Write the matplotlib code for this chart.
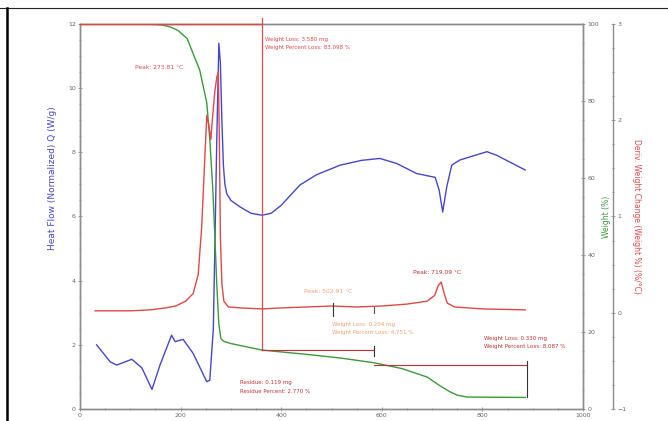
import matplotlib.pyplot as plt
from matplotlib.ticker import MultipleLocator
from matplotlib.lines import Line2D

# Heat flow (blue, left axis)
hf_temp = [33, 60, 73, 103, 123, 143, 159, 182, 189, 205, 225, 252, 258, 265,
           268, 272, 276, 279, 282, 285, 288, 292, 300, 318, 340, 362, 380, 400,
           437, 470, 517, 560, 596, 630, 669, 706, 714, 721, 729, 739, 755, 809,
           828, 885]
hf_val = [2.0, 1.47, 1.37, 1.55, 1.28, 0.61, 1.37, 2.3, 2.1, 2.17, 1.73, 0.85,
          0.9, 2.5, 5.0, 8.5, 11.4, 10.8, 9.0, 7.6, 7.0, 6.7, 6.5, 6.3, 6.1,
          6.04, 6.1, 6.35, 6.98, 7.3, 7.6, 7.75, 7.81, 7.65, 7.34, 7.22, 6.82,
          6.14, 6.92, 7.6, 7.76, 8.02, 7.91, 7.45]

# Weight % (green, first right axis)
w_temp = [30, 100, 150, 165, 180, 195, 213, 238, 252, 258, 264, 268, 272, 276,
          280, 285, 300, 362, 450, 520, 585, 640, 690, 716, 735, 750, 770, 885]
w_val = [100, 100, 99.9, 99.7, 99.2, 98.3, 96.2, 88, 79.5, 70, 57, 45, 32, 22,
         18.3, 17.6, 17.0, 15.3, 14.2, 13.2, 12.0, 10.5, 8.3, 6.0, 4.5, 3.6,
         3.1, 3.0]

# Deriv. weight (red, second right axis)
d_temp = [30, 100, 140, 170, 190, 210, 225, 235, 242, 248, 252, 256, 260, 263,
          268, 272, 275, 277, 279, 282, 286, 295, 320, 362, 400, 450, 500, 550,
          600, 650, 690, 705, 712, 718, 724, 730, 745, 800, 885]
d_val = [0.02, 0.02, 0.03, 0.05, 0.07, 0.12, 0.2, 0.4, 0.9, 1.6, 2.05, 1.95,
         1.8, 2.0, 2.3, 2.45, 2.5, 1.8, 0.8, 0.3, 0.12, 0.06, 0.05, 0.04, 0.05,
         0.06, 0.07, 0.06, 0.07, 0.09, 0.12, 0.18, 0.28, 0.32, 0.2, 0.1, 0.06,
         0.04, 0.03]

# weight loss step markers (temperature, weight %)
step1_t, step1_w = 362, 15.3
step2_t, step2_w = 585, 11.4
step3_t, step3_w = 888, 3.0

BLUE = "#4646cc"
GREEN = "#3a9a3a"
RED = "#e04848"
ORANGE = "#f4a070"
DARKRED = "#c03030"
GRAY = "#8c8c8c"
TXT = "#666666"

fig = plt.figure(figsize=(6.68, 4.21), dpi=100)
ax = fig.add_axes([0.1198, 0.0285, 0.753, 0.9145])
ax_w = ax.twinx()
ax_d = ax.twinx()
ax_d.spines["right"].set_position(("axes", 1.0596))

ax.plot(hf_temp, hf_val, color=BLUE, lw=1.0)
ax_w.plot(w_temp, w_val, color=GREEN, lw=1.0)
ax_d.plot(d_temp, d_val, color=RED, lw=1.0)

ax.set_xlim(0, 1000)
ax.set_ylim(0, 12)
ax_w.set_ylim(0, 100)
ax_d.set_ylim(-1, 3)

for a in (ax, ax_w, ax_d):
    for s in a.spines.values():
        s.set_color(GRAY)
        s.set_linewidth(1.0)
    a.tick_params(which="both", colors=GRAY, labelcolor=TXT, labelsize=4.5,
                  width=0.6, direction="inout")
    a.tick_params(which="major", length=3, pad=1.5)
    a.tick_params(which="minor", length=1.5)
ax_d.spines["left"].set_visible(False)
ax_d.spines["top"].set_visible(False)
ax_d.spines["bottom"].set_visible(False)

ax.xaxis.set_major_locator(MultipleLocator(200))
ax.xaxis.set_minor_locator(MultipleLocator(50))
ax.yaxis.set_major_locator(MultipleLocator(2))
ax.yaxis.set_minor_locator(MultipleLocator(0.5))
ax_w.yaxis.set_major_locator(MultipleLocator(20))
ax_w.yaxis.set_minor_locator(MultipleLocator(5))
ax_d.yaxis.set_major_locator(MultipleLocator(1))
ax_d.yaxis.set_minor_locator(MultipleLocator(0.25))

ax.set_ylabel("Heat Flow (Normalized) Q (W/g)", color=BLUE, fontsize=6.5)
ax.yaxis.set_label_coords(-0.045, 0.6)
ax_w.set_ylabel("Weight (%)", color=GREEN, fontsize=5.5, labelpad=2)
ax_d.set_ylabel("Deriv. Weight Change (Weight %) (%/°C)", color=RED,
                fontsize=5.5, labelpad=4, rotation=270, va="bottom")

# weight loss brackets
ax_w.plot([0, step1_t], [100, 100], color=RED, lw=1.0, clip_on=False, zorder=3)
ax_w.plot([step1_t, step1_t], [101.5, step1_w], color=RED, lw=0.9, clip_on=False)
ax_w.text(step1_t + 6, 96.5, "Weight Loss: 3.580 mg\nWeight Percent Loss: 83.098 %",
          color=RED, fontsize=4, va="top", linespacing=1.6)

ax_w.plot([step1_t, step2_t], [step1_w, step1_w], color=DARKRED, lw=0.8)
ax_w.plot([step2_t, step2_t], [step1_w + 1, step1_w - 1.5], color="#333333", lw=0.8)
ax_w.text(500, 22.5, "Weight Loss: 0.204 mg\nWeight Percent Loss: 4.751 %",
          color=ORANGE, fontsize=4, va="top", linespacing=1.6)

ax_w.plot([step2_t, step3_t], [step2_w, step2_w], color=DARKRED, lw=0.8)
ax_w.plot([step3_t, step3_t], [step2_w + 1, step3_w], color="#333333", lw=0.8)
ax_w.text(803, 19.0, "Weight Loss: 0.330 mg\nWeight Percent Loss: 8.087 %",
          color=DARKRED, fontsize=4, va="top", linespacing=1.8)

ax_w.text(318, 7.5, "Residue: 0.119 mg\nResidue Percent: 2.770 %",
          color=DARKRED, fontsize=4, va="top", linespacing=1.9)

# peak labels
ax_d.text(109, 2.55, "Peak: 273.81 °C", color=RED, fontsize=4.3, va="center")
ax_d.text(446, 0.22, "Peak: 502.91 °C", color=ORANGE, fontsize=4.3, va="center")
ax_d.plot([503, 503], [-0.03, 0.1], color="#333333", lw=0.8)
ax_d.plot([585, 585], [0.0, 0.06], color="#555555", lw=0.8)
ax_d.text(662, 0.42, "Peak: 719.09 °C", color=DARKRED, fontsize=4.3, va="center")

# page frame
fig.add_artist(Line2D([0, 1], [0.981, 0.981], color="#222222", lw=0.8))
fig.add_artist(Line2D([0.0105, 0.0105], [0, 0.981], color="black", lw=1.8))

fig.savefig("out.png", dpi=100)
